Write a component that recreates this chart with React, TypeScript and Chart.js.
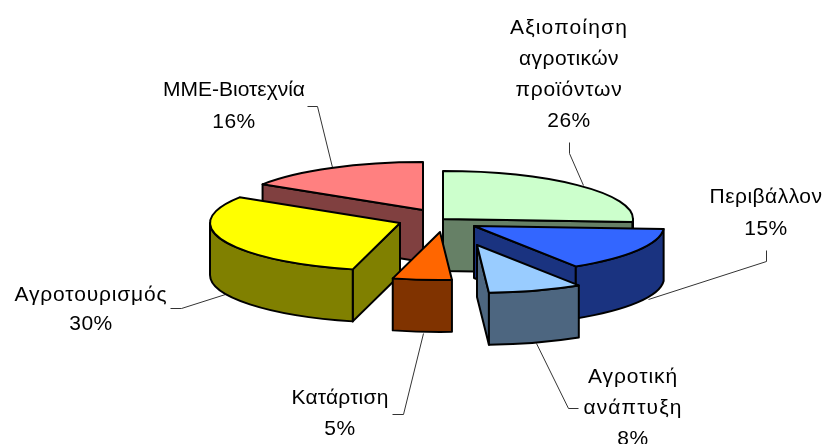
import React, { useEffect, useRef } from "react";
import { Chart, registerables } from "chart.js";

Chart.register(...registerables);

const categories = [
  "Αξιοποίηση αγροτικών προϊόντων",
  "Περιβάλλον",
  "Αγροτική ανάπτυξη",
  "Κατάρτιση",
  "Αγροτουρισμός",
  "ΜΜΕ-Βιοτεχνία",
];
const shares = [26, 15, 8, 5, 30, 16];
const labelLines = [
  ["Αξιοποίηση", "αγροτικών", "προϊόντων"],
  ["Περιβάλλον"],
  ["Αγροτική", "ανάπτυξη"],
  ["Κατάρτιση"],
  ["Αγροτουρισμός"],
  ["ΜΜΕ-Βιοτεχνία"],
];
const topColors = ["#CCFFCC", "#3366FF", "#99CCFF", "#FF6600", "#FFFF00", "#FF8080"];
const wallColors = ["#668066", "#1A3380", "#4D6680", "#803300", "#808000", "#804040"];

// Explosion of each slice away from the pie centre, in pixels on the page.
const explodeX = [31, 62, 65, 28, -12, 11];
const explodeY = [-3, 4, 23, 10, 1, -12];
const TILT = 0.252;
const DEPTH = 52;
const RADIUS = 190;

// Label placement: centre x, first baseline, line step, and the width each text line occupies
const labelX = [569, 766, 633, 340, 91, 234];
const labelY = [34, 203, 383, 404, 301, 96];
const labelStep = [31, 32, 31, 31, 29, 32];
const labelWidths = [
  [118, 100, 107],
  [113],
  [90, 99],
  [97],
  [153],
  [142],
];
const leaders = [
  [[569, 142], [569, 153], [583, 185]],
  [[766, 250], [766, 261], [648, 299]],
  [[578, 408], [568, 408], [536, 343]],
  [[392, 414], [403, 414], [423, 333]],
  [[170, 308], [181, 308], [225, 294]],
  [[307, 106], [317, 106], [332, 167]],
];

const pie3d = {
  id: "pie3d",
  beforeDatasetsDraw(chart: any) {
    const ctx: CanvasRenderingContext2D = chart.ctx;
    const arcs = chart.getDatasetMeta(0).data;

    // leader lines sit underneath the slices
    ctx.save();
    ctx.strokeStyle = "#333333";
    ctx.lineWidth = 1;
    leaders.forEach((pts) => {
      ctx.beginPath();
      pts.forEach((p, k) => (k ? ctx.lineTo(p[0] + 0.5, p[1] + 0.5) : ctx.moveTo(p[0] + 0.5, p[1] + 0.5)));
      ctx.stroke();
    });
    ctx.restore();

    const order = arcs
      .map((_: any, i: number) => i)
      .sort((a: number, b: number) => explodeY[a] - explodeY[b]);

    ctx.save();
    ctx.lineWidth = 2;
    ctx.strokeStyle = "#000000";
    ctx.lineJoin = "round";
    order.forEach((i: number) => {
      const a = arcs[i];
      const cx = a.x + explodeX[i];
      const cy = a.y + explodeY[i];
      const rx = a.outerRadius;
      const ry = a.outerRadius * TILT;
      const s = a.startAngle;
      const e = a.endAngle;
      const px = (t: number) => cx + rx * Math.cos(t);
      const py = (t: number) => cy + ry * Math.sin(t);

      ctx.fillStyle = wallColors[i];
      // radial cut faces that look toward the viewer
      const face = (t: number) => {
        ctx.beginPath();
        ctx.moveTo(cx, cy);
        ctx.lineTo(px(t), py(t));
        ctx.lineTo(px(t), py(t) + DEPTH);
        ctx.lineTo(cx, cy + DEPTH);
        ctx.closePath();
        ctx.fill();
        ctx.stroke();
      };
      if (Math.cos(s) < 0) face(s);
      if (Math.cos(e) > 0) face(e);

      // outer rim: only the front half of the circle shows
      const ranges = [
        [Math.max(s, 0), Math.min(e, Math.PI)],
        [Math.max(s, 2 * Math.PI), Math.min(e, 3 * Math.PI)],
      ];
      ranges.forEach(([r0, r1]) => {
        if (r1 <= r0) return;
        ctx.beginPath();
        ctx.ellipse(cx, cy, rx, ry, 0, r0, r1);
        ctx.lineTo(px(r1), py(r1) + DEPTH);
        ctx.ellipse(cx, cy + DEPTH, rx, ry, 0, r1, r0, true);
        ctx.closePath();
        ctx.fill();
        ctx.stroke();
      });

      // top surface
      ctx.fillStyle = topColors[i];
      ctx.beginPath();
      ctx.moveTo(cx, cy);
      ctx.ellipse(cx, cy, rx, ry, 0, s, e);
      ctx.closePath();
      ctx.fill();
      ctx.stroke();
    });
    ctx.restore();

    // data labels
    ctx.save();
    ctx.fillStyle = "#000000";
    ctx.font = '21px "Liberation Sans", Arial, sans-serif';
    ctx.textAlign = "center";
    ctx.textBaseline = "alphabetic";
    const total = shares.reduce((p, v) => p + v, 0);
    labelLines.forEach((lines, i) => {
      lines.forEach((t, k) => {
        (ctx as any).letterSpacing = "0px";
        const spare = labelWidths[i][k] - ctx.measureText(t).width;
        (ctx as any).letterSpacing = `${Math.max(spare, 0) / t.length}px`;
        ctx.fillText(t, labelX[i], labelY[i] + k * labelStep[i]);
      });
      (ctx as any).letterSpacing = "0.5px";
      ctx.fillText(`${Math.round((shares[i] / total) * 100)}%`, labelX[i], labelY[i] + lines.length * labelStep[i]);
    });
    ctx.restore();
    return false;
  },
};

export default function App() {
  const ref = useRef<HTMLCanvasElement>(null);
  useEffect(() => {
    const chart = new Chart(ref.current as HTMLCanvasElement, {
      type: "pie",
      data: {
        labels: categories,
        datasets: [{ data: shares, backgroundColor: topColors, borderColor: "#000000", borderWidth: 2 }],
      },
      options: {
        animation: false,
        responsive: false,
        radius: RADIUS,
        layout: { padding: 0 },
        plugins: { legend: { display: false }, tooltip: { enabled: false } },
      } as any,
      plugins: [pie3d],
    });
    return () => chart.destroy();
  }, []);
  return (
    <div style={{ position: "absolute", left: 0, top: 0, width: 824, height: 444, background: "#ffffff" }}>
      <canvas ref={ref} width={824} height={444} style={{ display: "block" }} />
    </div>
  );
}
